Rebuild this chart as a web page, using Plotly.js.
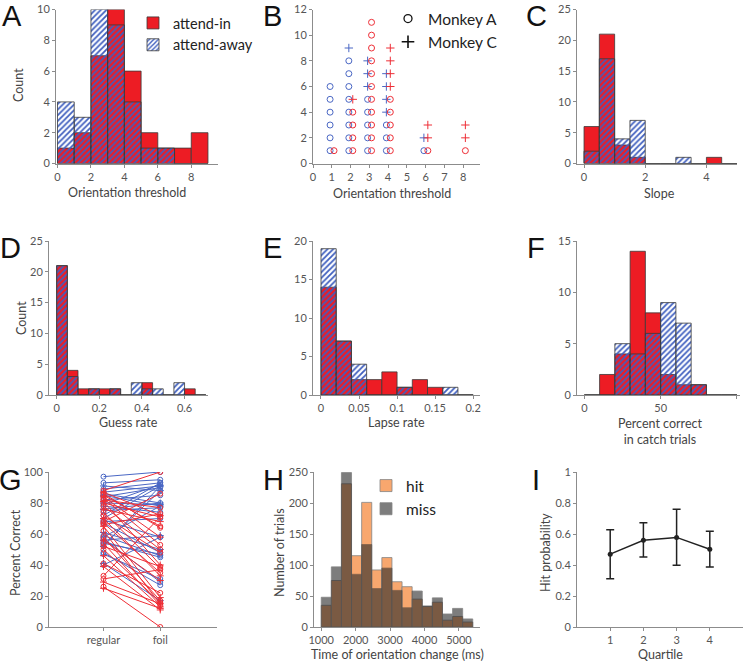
<!DOCTYPE html>
<html><head><meta charset="utf-8">
<script src="https://cdn.plot.ly/plotly-3.0.1.min.js"></script>
<style>html,body{margin:0;padding:0;background:#fff}#chart{width:744px;height:662px}</style>
</head><body><div id="chart"></div>
<script>
// ---------- Panel A: orientation threshold histogram ----------
const threshCenters = [0.5,1.5,2.5,3.5,4.5,5.5,6.5,7.5,8.5];
const threshAttendIn = [1,2,7,10,6,2,1,1,2];
const threshAttendAway = [4,3,10,9,4,1,1,0,0];
// ---------- Panel B: dot plot per monkey ----------
const roundedThresh = [1,2,3,4,6,8];
const inMonkeyA = [1,4,11,5,1,1];
const inMonkeyC = [0,1,0,4,2,2];
const awayMonkeyA = [6,8,5,3,1,0];
const awayMonkeyC = [0,1,3,4,1,0];
// ---------- Panel C: slope ----------
const slopeCenters = [0.25,0.75,1.25,1.75,2.25,2.75,3.25,3.75,4.25,4.75];
const slopeAttendIn = [6,21,3,1,0,0,0,0,1,0];
const slopeAttendAway = [2,17,4,7,0,0,1,0,0,0];
// ---------- Panel D: guess rate ----------
const guessCenters = [0.025,0.075,0.125,0.175,0.225,0.275,0.325,0.375,0.425,0.475,0.525,0.575,0.625,0.675];
const guessAttendIn = [21,4,1,1,1,1,0,0,2,0,0,0,1,0];
const guessAttendAway = [21,3,0,1,0,1,0,2,1,1,0,2,0,0];
// ---------- Panel E: lapse rate ----------
const lapseCenters = [0.01,0.03,0.05,0.07,0.09,0.11,0.13,0.15,0.17,0.19];
const lapseAttendIn = [14,7,2,2,3,1,2,1,0,0];
const lapseAttendAway = [19,7,4,0,0,1,0,0,1,0];
// ---------- Panel F: percent correct in catch trials ----------
const catchCenters = [5,15,25,35,45,55,65,75,85,95];
const catchAttendIn = [0,2,4,14,8,2,1,1,0,0];
const catchAttendAway = [0,0,5,4,6,9,7,1,0,0];
// ---------- Panel G: regular vs foil ----------
const conditionLabels = ['regular','foil'];
const regularAway = [97,93,91,89,87,85,84,82,80,79,78,76,75,72,70,69,68,67,61,59,58,57,56,55,54,53,52,48,47,41,40,86];
const foilAway    = [100,95,88,93,91,78,90,85,79,92,74,80,77,93,91,58,70,48,50,46,78,29,59,45,47,88,91,27,31,17,58,80];
const monkeyAway  = ['A','A','C','A','A','C','A','A','C','A','A','C','A','A','C','A','A','A','C','A','A','A','C','A','A','A','C','A','A','C','A','A'];
const regularIn = [88,87,86,85,84,83,82,81,80,78,76,74,72,70,68,67,66,65,62,58,56,54,52,50,46,41,39,33,31,29,26,25];
const foilIn    = [100,72,64,65,58,53,77,40,71,50,68,38,48,33,86,35,73,19,15,17,30,14,39,16,13,22,11,71,37,15,0,12];
const monkeyIn  = ['A','C','A','A','C','A','A','C','A','A','C','A','A','C','A','A','A','C','A','A','C','A','A','A','C','A','C','A','A','C','A','C'];
// ---------- Panel H: hit / miss times ----------
const timeCenters = [1147,1440,1733,2027,2320,2613,2907,3200,3493,3787,4080,4373,4667,4960,5253];
const hitCounts  = [35,75,231,115,201,92,112,73,65,45,33,40,11,17,8];
const missCounts = [48,97,249,85,133,62,95,59,31,58,34,47,21,30,13];
// ---------- Panel I: hit probability by quartile ----------
const quartiles = [1,2,3,4];
const hitProb = [0.47,0.56,0.578,0.502];
const hitErrUp = [0.158,0.112,0.181,0.116];
const hitErrDown = [0.158,0.108,0.18,0.115];

// ---------- styling ----------
const RED = '#ED1C24', BLUE = '#3F5FBF', OUT = '#3a3a3a';
const LRED = '#EE2E36', LBLUE = '#4A67C4';
const FONT = 'Lato, "Open Sans", sans-serif';
const W = 744, H = 662;
const xd = (a,b) => [a/W, b/W];
const yd = (top,bottom) => [1-bottom/H, 1-top/H];

const traces = [];
function histPair(xa, ya, centers, inVals, awayVals, width, legend) {
  traces.push({type:'bar', x:centers, y:inVals, width:width, xaxis:xa, yaxis:ya,
    name:'attend-in', showlegend:!!legend, legend:'legend',
    marker:{color:RED, line:{color:OUT, width:0.8}}, hoverinfo:'skip'});
  traces.push({type:'bar', x:centers, y:awayVals, width:width, xaxis:xa, yaxis:ya,
    name:'attend-away', showlegend:!!legend, legend:'legend',
    marker:{color:BLUE, pattern:{shape:'/', size:4, solidity:0.45, fillmode:'replace'}, line:{color:OUT, width:0.8}}, hoverinfo:'skip'});
}
histPair('x','y', threshCenters, threshAttendIn, threshAttendAway, 1, true);

// Panel B
function dotTrace(counts, base, symbol, color, offset) {
  const xs = [], ys = [];
  roundedThresh.forEach((t,i) => {
    for (let k = 1; k <= counts[i]; k++) { xs.push(t + offset); ys.push(base[i] + k); }
  });
  return {type:'scatter', mode:'markers', x:xs, y:ys, xaxis:'x2', yaxis:'y2', showlegend:false,
    marker:{symbol:symbol, size: symbol==='circle-open'?6:6, color:color, line:{width:1, color:color}}, hoverinfo:'skip'};
}
const zeros = roundedThresh.map(() => 0);
traces.push(dotTrace(awayMonkeyA, zeros, 'circle-open', LBLUE, -0.09));
traces.push(dotTrace(awayMonkeyC, awayMonkeyA, 'cross-thin-open', LBLUE, -0.09));
traces.push(dotTrace(inMonkeyA, zeros, 'circle-open', LRED, 0.12));
traces.push(dotTrace(inMonkeyC, inMonkeyA, 'cross-thin-open', LRED, 0.12));
traces.push({type:'scatter', mode:'markers', x:[null], y:[null], xaxis:'x2', yaxis:'y2', name:'Monkey A', legend:'legend2',
  marker:{symbol:'circle-open', size:8, color:'#111', line:{width:1.3,color:'#111'}}});
traces.push({type:'scatter', mode:'markers', x:[null], y:[null], xaxis:'x2', yaxis:'y2', name:'Monkey C', legend:'legend2',
  marker:{symbol:'cross-thin-open', size:9, color:'#111', line:{width:1.6,color:'#111'}}});

histPair('x3','y3', slopeCenters, slopeAttendIn, slopeAttendAway, 0.5, false);
histPair('x4','y4', guessCenters, guessAttendIn, guessAttendAway, 0.05, false);
histPair('x5','y5', lapseCenters, lapseAttendIn, lapseAttendAway, 0.02, false);
histPair('x6','y6', catchCenters, catchAttendIn, catchAttendAway, 10, false);

// Panel G
function pairTrace(reg, foil, monkeys, color) {
  const xs = [], ys = [], syms = [];
  reg.forEach((r,i) => {
    const s = monkeys[i]==='A' ? 'circle-open' : 'cross-thin-open';
    xs.push(1, 2, null); ys.push(r, foil[i], null); syms.push(s, s, s);
  });
  return {type:'scatter', mode:'lines+markers', x:xs, y:ys, xaxis:'x7', yaxis:'y7', showlegend:false, connectgaps:false,
    line:{color:color, width:1}, marker:{symbol:syms, size:5, color:color, line:{width:1,color:color}}, hoverinfo:'skip'};
}
traces.push(pairTrace(regularAway, foilAway, monkeyAway, LBLUE));
traces.push(pairTrace(regularIn, foilIn, monkeyIn, LRED));

// Panel H
traces.push({type:'bar', x:timeCenters, y:hitCounts, width:293, xaxis:'x8', yaxis:'y8', name:'hit', legend:'legend3',
  opacity:0.6, marker:{color:'rgb(245,110,15)', line:{color:'rgb(50,50,50)', width:0.8}}, hoverinfo:'skip'});
traces.push({type:'bar', x:timeCenters, y:missCounts, width:293, xaxis:'x8', yaxis:'y8', name:'miss', legend:'legend3',
  opacity:0.6, marker:{color:'rgb(40,40,40)', line:{color:'rgb(50,50,50)', width:0.8}}, hoverinfo:'skip'});

// Panel I
traces.push({type:'scatter', mode:'lines+markers', x:quartiles, y:hitProb, xaxis:'x9', yaxis:'y9', showlegend:false,
  line:{color:'#222', width:1.5}, marker:{color:'#222', size:5},
  error_y:{type:'data', array:hitErrUp, arrayminus:hitErrDown, color:'#222', thickness:1.5, width:4}, hoverinfo:'skip'});

// ---------- axes ----------
const base = {showline:true, linecolor:'#8c8c8c', linewidth:1, ticks:'outside', ticklen:3, tickcolor:'#8c8c8c',
  tickfont:{family:FONT, size:11, color:'#555'}, showgrid:false, zeroline:false, fixedrange:true};
function ax(domain, range, anchor, extra) { return Object.assign({}, base, {domain, range, anchor}, extra||{}); }
const r1 = yd(9.5,163.5), r2 = yd(241,395), r3 = yd(472,627);

const layout = {
  width:W, height:H, margin:{l:0,r:0,t:0,b:0}, paper_bgcolor:'#fff', plot_bgcolor:'rgba(0,0,0,0)',
  barmode:'overlay', bargap:0, showlegend:true, font:{family:FONT, color:'#444'},
  xaxis:  ax(xd(56,218),  [-0.09,9.6], 'y',  {tickvals:[0,2,4,6,8]}),
  yaxis:  ax(r1, [0,10], 'x', {tickvals:[0,2,4,6,8,10]}),
  xaxis2: ax(xd(313,480), [0,8.9], 'y2', {tickvals:[0,1,2,3,4,5,6,7,8]}),
  yaxis2: ax(r1, [0,12], 'x2', {tickvals:[0,2,4,6,8,10,12]}),
  xaxis3: ax(xd(577,737), [-0.23,5.0], 'y3', {tickvals:[0,2,4]}),
  yaxis3: ax(r1, [0,25], 'x3', {tickvals:[0,5,10,15,20,25]}),
  xaxis4: ax(xd(49,208),  [-0.036,0.71], 'y4', {tickvals:[0,0.2,0.4,0.6]}),
  yaxis4: ax(r2, [0,25], 'x4', {tickvals:[0,5,10,15,20,25]}),
  xaxis5: ax(xd(313,480), [-0.0105,0.209], 'y5', {tickvals:[0,0.05,0.1,0.15,0.2]}),
  yaxis5: ax(r2, [0,20], 'x5', {tickvals:[0,5,10,15,20]}),
  xaxis6: ax(xd(577,740), [-4.8,102], 'y6', {tickvals:[0,50,100]}),
  yaxis6: ax(r2, [0,15], 'x6', {tickvals:[0,5,10,15]}),
  xaxis7: ax(xd(49,217),  [0.04,3], 'y7', {tickvals:[1,2], ticktext:conditionLabels}),
  yaxis7: ax(r3, [0,100], 'x7', {tickvals:[0,20,40,60,80,100]}),
  xaxis8: ax(xd(314,480), [790,5610], 'y8', {tickvals:[1000,2000,3000,4000,5000]}),
  yaxis8: ax(r3, [0,250], 'x8', {tickvals:[0,50,100,150,200,250]}),
  xaxis9: ax(xd(577,743), [0,5], 'y9', {tickvals:[1,2,3,4]}),
  yaxis9: ax(r3, [0,1], 'x9', {tickvals:[0,0.2,0.4,0.6,0.8,1]}),
  legend:  {x:133/W, y:1-7/H, xanchor:'left', yanchor:'top', bgcolor:'rgba(0,0,0,0)', font:{family:FONT, size:14.5, color:'#222'}, tracegroupgap:0},
  legend2: {x:388/W, y:1-2/H, xanchor:'left', yanchor:'top', bgcolor:'rgba(0,0,0,0)', font:{family:FONT, size:15.5, color:'#222'}, tracegroupgap:0},
  legend3: {x:366/W, y:1-469/H, xanchor:'left', yanchor:'top', bgcolor:'rgba(0,0,0,0)', font:{family:FONT, size:15.5, color:'#222'}, tracegroupgap:0},
  annotations: []
};

// panel letters
const letters = [['A',12,16],['B',272,16],['C',536,16],['D',10,248],['E',272,248],['F',536,248],['G',10,480],['H',273,480],['I',536,480]];
letters.forEach(([t,x,y]) => layout.annotations.push({text:t, x:x/W, y:1-y/H, xref:'paper', yref:'paper', showarrow:false,
  xanchor:'center', yanchor:'middle', font:{family:'"Liberation Sans", Arial, sans-serif', size:29, color:'#111'}}));
// axis titles
const xt = [['Orientation threshold',127,192],['Orientation threshold',392,193],['Slope',659,193],
  ['Guess rate',128,423],['Lapse rate',396,423],['Percent correct<br>in catch trials',660,431],
  ['Time of orientation change (ms)',397,654],['Quartile',660,654]];
xt.forEach(([t,x,y]) => layout.annotations.push({text:t, x:x/W, y:1-y/H, xref:'paper', yref:'paper', showarrow:false,
  xanchor:'center', yanchor:'middle', font:{family:FONT, size:12.5, color:'#444'}}));
const yt = [['Count',19,85],['Count',21,318],['Percent Correct',15,553],['Number of trials',279,553],['Hit probability',545,553]];
yt.forEach(([t,x,y]) => layout.annotations.push({text:t, x:x/W, y:1-y/H, xref:'paper', yref:'paper', showarrow:false,
  textangle:-90, xanchor:'center', yanchor:'middle', font:{family:FONT, size:12.5, color:'#444'}}));

Plotly.newPlot('chart', traces, layout, {staticPlot:true, displayModeBar:false});
</script></body></html>
